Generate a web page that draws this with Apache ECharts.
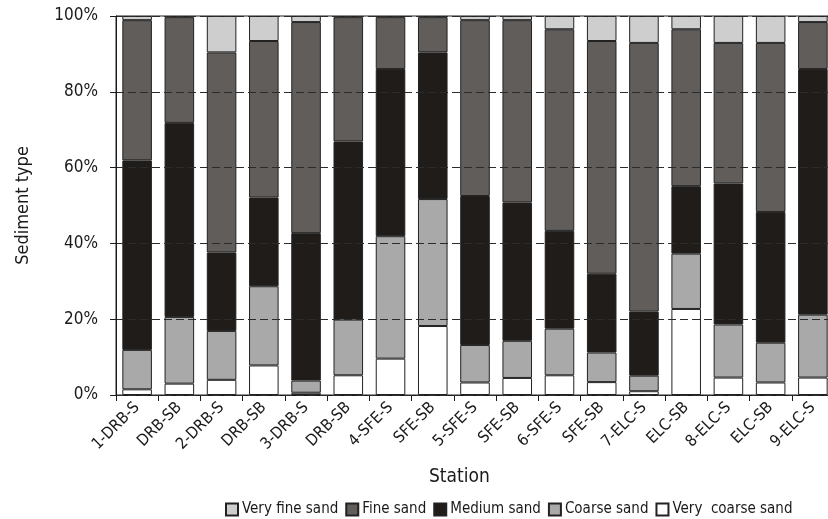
<!DOCTYPE html>
<html>
<head>
<meta charset="utf-8">
<title>Sediment type by station</title>
<script src="https://cdn.jsdelivr.net/npm/echarts@6/dist/echarts.min.js"></script>
<style>
  html, body { margin: 0; padding: 0; background: #ffffff; }
  #chart { width: 828px; height: 519px; }
</style>
</head>
<body>
<div id="chart"></div>
<script>
// Stations along the x axis
const stations = ['1-DRB-S', 'DRB-SB', '2-DRB-S', 'DRB-SB', '3-DRB-S', 'DRB-SB',
  '4-SFE-S', 'SFE-SB', '5-SFE-S', 'SFE-SB', '6-SFE-S', 'SFE-SB',
  '7-ELC-S', 'ELC-SB', '8-ELC-S', 'ELC-SB', '9-ELC-S'];

// Percent of each sediment class per station
const veryCoarseSand = [1.5, 3.0, 4.0, 7.8, 0.6, 5.2, 9.6, 18.2, 3.3, 4.5, 5.2, 3.4, 1.0, 22.7, 4.6, 3.3, 4.6];
const coarseSand     = [10.4, 17.6, 12.9, 20.9, 3.2, 14.7, 32.3, 33.5, 9.9, 9.8, 12.3, 7.8, 4.1, 14.6, 14.0, 10.5, 16.6];
const mediumSand     = [50.0, 51.2, 20.7, 23.4, 38.9, 47.0, 44.1, 38.7, 39.3, 36.5, 25.8, 20.8, 16.9, 17.8, 37.2, 34.5, 64.8];
const fineSand       = [37.0, 27.9, 52.8, 41.3, 55.7, 32.8, 13.7, 9.3, 46.4, 48.1, 53.2, 61.4, 70.9, 41.4, 37.1, 44.6, 12.4];
const veryFineSand   = [1.1, 0.3, 9.6, 6.6, 1.6, 0.3, 0.3, 0.3, 1.1, 1.1, 3.5, 6.6, 7.1, 3.5, 7.1, 7.1, 1.6];

// Y axis ticks
const yTicks = [0, 20, 40, 60, 80, 100];

const FONT = '"Liberation Sans Narrow", "DejaVu Sans Condensed", "Liberation Sans", sans-serif';
const INK = '#1a1a1a';

const classes = [
  { name: 'Very  coarse sand', data: veryCoarseSand, color: '#ffffff' },
  { name: 'Coarse sand',       data: coarseSand,     color: '#a9a9a9' },
  { name: 'Medium sand',       data: mediumSand,     color: '#201c1a' },
  { name: 'Fine sand',         data: fineSand,       color: '#615d5b' },
  { name: 'Very fine sand',    data: veryFineSand,   color: '#cecece' }
];

const chart = echarts.init(document.getElementById('chart'), null, { renderer: 'canvas' });

chart.setOption({
  animation: false,
  backgroundColor: '#ffffff',
  textStyle: { fontFamily: FONT, color: INK },
  title: {
    text: 'Station',
    left: 424,
    top: 463,
    textStyle: { fontFamily: FONT, fontSize: 19, fontWeight: 'normal', color: INK }
  },
  legend: {
    data: ['Very fine sand', 'Fine sand', 'Medium sand', 'Coarse sand', 'Very  coarse sand'],
    left: 220,
    top: 497,
    width: 640,
    orient: 'horizontal',
    icon: 'rect',
    itemWidth: 12,
    itemHeight: 12,
    itemGap: 7,
    textStyle: { fontFamily: FONT, fontSize: 15, color: INK, padding: [0, 0, 0, -1] }
  },
  grid: {
    left: 116,
    width: 718,
    top: 16,
    height: 379,
    outerBoundsMode: 'none',
    containLabel: false,
    show: true,
    borderColor: '#222222',
    borderWidth: 1,
    backgroundColor: 'transparent'
  },
  xAxis: {
    type: 'category',
    data: stations,
    axisLine: { lineStyle: { color: INK, width: 1 } },
    axisTick: { show: true, alignWithLabel: false, length: 6, lineStyle: { color: INK } },
    axisLabel: {
      rotate: 45,
      interval: 0,
      margin: 10,
      fontFamily: FONT,
      fontSize: 16,
      color: INK
    },
    splitLine: { show: false }
  },
  yAxis: {
    type: 'value',
    min: yTicks[0],
    max: yTicks[yTicks.length - 1],
    interval: yTicks[1] - yTicks[0],
    z: 5,
    name: 'Sediment type',
    nameLocation: 'middle',
    nameGap: 84,
    nameRotate: 90,
    nameTextStyle: { fontFamily: FONT, fontSize: 18, color: INK },
    axisLine: { show: true, lineStyle: { color: INK, width: 1 } },
    axisTick: { show: true, length: 6, lineStyle: { color: INK } },
    axisLabel: {
      margin: 18,
      fontFamily: FONT,
      fontSize: 17,
      color: INK,
      formatter: '{value}%'
    },
    splitLine: {
      show: true,
      lineStyle: { color: '#2b2b2b', width: 1, type: [8, 4] }
    }
  },
  series: classes.map(c => ({
    name: c.name,
    type: 'bar',
    stack: 'total',
    barCategoryGap: '30%',
    data: c.data,
    itemStyle: { color: c.color, borderColor: '#222222', borderWidth: 1 },
    emphasis: { disabled: true }
  }))
});
</script>
</body>
</html>
